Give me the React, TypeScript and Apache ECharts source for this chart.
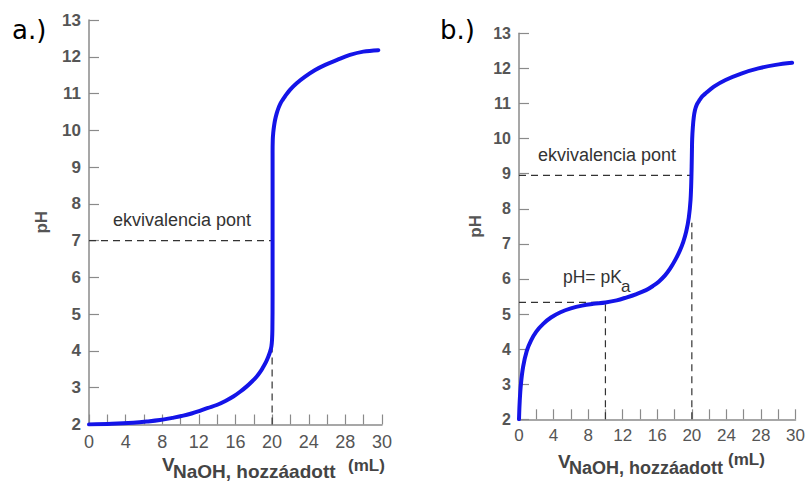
import React, { useEffect, useRef } from 'react';
import * as echarts from 'echarts';

// Tick labels along the x axis (the original prints "30" at the 32 mL tick)
const xTickLabels = ['0', '4', '8', '12', '16', '20', '24', '28', '30'];

// a.) strong acid titration curve [V (mL), pH]
const strongAcidCurve: number[][] = [
  [0, 2.0], [2.5, 2.02], [4.84, 2.05], [6.3, 2.08], [7.75, 2.12], [9.1, 2.18], [10.3, 2.24],
  [11.2, 2.3], [12.1, 2.37], [13.0, 2.45], [13.95, 2.53], [14.9, 2.64], [15.76, 2.76],
  [16.5, 2.89], [17.2, 3.03], [17.8, 3.17], [18.3, 3.3], [18.7, 3.43], [19.04, 3.57],
  [19.35, 3.71], [19.58, 3.84], [19.78, 3.98], [19.92, 4.12], [19.99, 4.3],
  [20.03, 4.6], [20.05, 5.5], [20.05, 7], [20.05, 8.5], [20.05, 9.4], [20.07, 9.74],
  [20.12, 9.93], [20.2, 10.1], [20.32, 10.28], [20.5, 10.46], [20.7, 10.61],
  [20.93, 10.74], [21.15, 10.83], [21.4, 10.92], [21.95, 11.1], [22.68, 11.28],
  [23.6, 11.46], [24.7, 11.64], [25.8, 11.78], [27.05, 11.91], [28.5, 12.05],
  [29.96, 12.14], [31.6, 12.18],
];

// b.) weak acid titration curve [V (mL), pH]
const weakAcidCurve: number[][] = [
  [0, 2.0], [0.08, 2.5], [0.22, 3.0], [0.48, 3.5], [0.9, 3.95], [1.4, 4.25], [2.0, 4.5],
  [2.8, 4.72], [3.7, 4.9], [4.8, 5.05], [6.0, 5.16], [7.3, 5.24], [8.6, 5.29], [10, 5.33],
  [11.3, 5.39], [12.4, 5.47], [13.6, 5.57], [14.7, 5.68], [15.5, 5.8], [16.2, 5.93],
  [16.9, 6.1], [17.5, 6.3], [18.1, 6.55], [18.6, 6.8], [19.0, 7.05], [19.35, 7.35],
  [19.65, 7.75], [19.85, 8.25], [19.95, 8.9], [20.0, 9.5], [20.04, 10.0], [20.12, 10.34],
  [20.22, 10.6], [20.36, 10.81], [20.6, 10.98], [20.9, 11.1], [21.2, 11.2], [21.6, 11.29],
  [22.55, 11.48], [23.9, 11.67], [25.8, 11.86], [27.7, 12.0], [29.7, 12.1], [31.6, 12.16],
];

// dashed guide lines
const strongEqHorizontal: number[][] = [[0, 7], [20, 7]];
const strongEqVertical: number[][] = [[20, 2], [20, 4.2]];
const weakEqHorizontal: number[][] = [[0, 8.95], [20, 8.95]];
const weakEqVertical: number[][] = [[20, 2], [20, 7.6]];
const weakPkaHorizontal: number[][] = [[0, 5.33], [10, 5.33]];
const weakPkaVertical: number[][] = [[10, 2], [10, 5.33]];

const AXIS_GRAY = '#8a8a8a';
const LABEL_GRAY = '#555';
const FONT = '"Liberation Sans", Arial, sans-serif';

function makeXAxis(gridIndex: number, fontSize: number) {
  return {
    type: 'value',
    gridIndex,
    min: 0,
    max: 32,
    interval: 2,
    axisLine: { show: true, lineStyle: { color: AXIS_GRAY, width: 1.5 } },
    axisTick: { show: true, inside: true, length: 10, lineStyle: { color: AXIS_GRAY, width: 1.2 } },
    splitLine: { show: false },
    axisLabel: {
      show: true,
      fontSize,
      fontFamily: FONT,
      color: LABEL_GRAY,
      margin: 8,
      formatter: (v: number) => (v % 4 === 0 ? xTickLabels[v / 4] ?? '' : ''),
    },
  };
}

function makeYAxis(gridIndex: number, fontSize: number, nameGap: number) {
  return {
    type: 'value',
    gridIndex,
    min: 2,
    max: 13,
    interval: 1,
    name: 'pH',
    nameLocation: 'middle',
    nameRotate: 90,
    nameGap,
    nameTextStyle: { fontSize: 17, fontWeight: 'bold', color: LABEL_GRAY, fontFamily: FONT },
    axisLine: { show: true, lineStyle: { color: AXIS_GRAY, width: 1.5 } },
    axisTick: { show: true, inside: true, length: 10, lineStyle: { color: AXIS_GRAY, width: 1.2 } },
    splitLine: { show: false },
    axisLabel: {
      show: true,
      fontSize,
      fontWeight: 'bold',
      fontFamily: FONT,
      color: LABEL_GRAY,
      margin: 8,
    },
  };
}

function dashed(data: number[][], idx: number) {
  return {
    type: 'line',
    xAxisIndex: idx,
    yAxisIndex: idx,
    data,
    symbol: 'none',
    silent: true,
    z: 1,
    lineStyle: { color: '#333', width: 1.2, type: [7, 5] },
  };
}

function curve(data: number[][], idx: number) {
  return {
    type: 'line',
    xAxisIndex: idx,
    yAxisIndex: idx,
    data,
    symbol: 'none',
    smooth: 0.35,
    z: 3,
    lineStyle: { color: '#1414e8', width: 4, cap: 'round', join: 'round' },
  };
}

function txt(text: string, x: number, y: number, fontSize: number, opts: any = {}) {
  return {
    type: 'text',
    x,
    y,
    silent: true,
    style: {
      text,
      fontSize,
      fontFamily: opts.family ?? FONT,
      fontWeight: opts.weight ?? 'normal',
      fill: opts.fill ?? '#333',
      align: 'left',
      verticalAlign: 'middle',
    },
  };
}

export default function App() {
  const ref = useRef<HTMLDivElement>(null);
  useEffect(() => {
    if (!ref.current) return;
    const chart = echarts.init(ref.current, null, { renderer: 'svg' });
    chart.setOption({
      animation: false,
      backgroundColor: '#fff',
      grid: [
        { left: 89, top: 20, width: 293, height: 404.5 },
        { left: 519, top: 33.3, width: 277.7, height: 386 },
      ],
      xAxis: [makeXAxis(0, 18), makeXAxis(1, 17)],
      yAxis: [makeYAxis(0, 17, 39), makeYAxis(1, 16, 35)],
      series: [
        dashed(strongEqHorizontal, 0),
        dashed(strongEqVertical, 0),
        curve(strongAcidCurve, 0),
        dashed(weakEqHorizontal, 1),
        dashed(weakEqVertical, 1),
        dashed(weakPkaHorizontal, 1),
        dashed(weakPkaVertical, 1),
        curve(weakAcidCurve, 1),
      ],
      graphic: [
        txt('a.)', 12, 30, 26, { family: '"DejaVu Sans", sans-serif', fill: '#000' }),
        txt('b.)', 440, 30, 26, { family: '"DejaVu Sans", sans-serif', fill: '#000' }),
        txt('ekvivalencia pont', 113, 220, 18),
        txt('ekvivalencia pont', 538, 155, 18),
        txt('pH= pK', 563, 277, 17.5),
        txt('a', 621, 286, 17),
        // x axis titles (V with subscript and superscript unit)
        txt('V', 162, 464, 19, { weight: 'bold', fill: '#444' }),
        txt('NaOH, hozzáadott', 173, 471, 19, { weight: 'bold', fill: '#444' }),
        txt('(mL)', 348, 465, 17, { weight: 'bold', fill: '#444' }),
        txt('V', 558, 461, 19, { weight: 'bold', fill: '#444' }),
        txt('NaOH, hozzáadott', 569, 468, 18, { weight: 'bold', fill: '#444' }),
        txt('(mL)', 728, 459, 17, { weight: 'bold', fill: '#444' }),
      ],
    });
    return () => chart.dispose();
  }, []);
  return (
    <div
      ref={ref}
      style={{ position: 'fixed', left: 0, top: 0, width: 808, height: 481, background: '#fff' }}
    />
  );
}
